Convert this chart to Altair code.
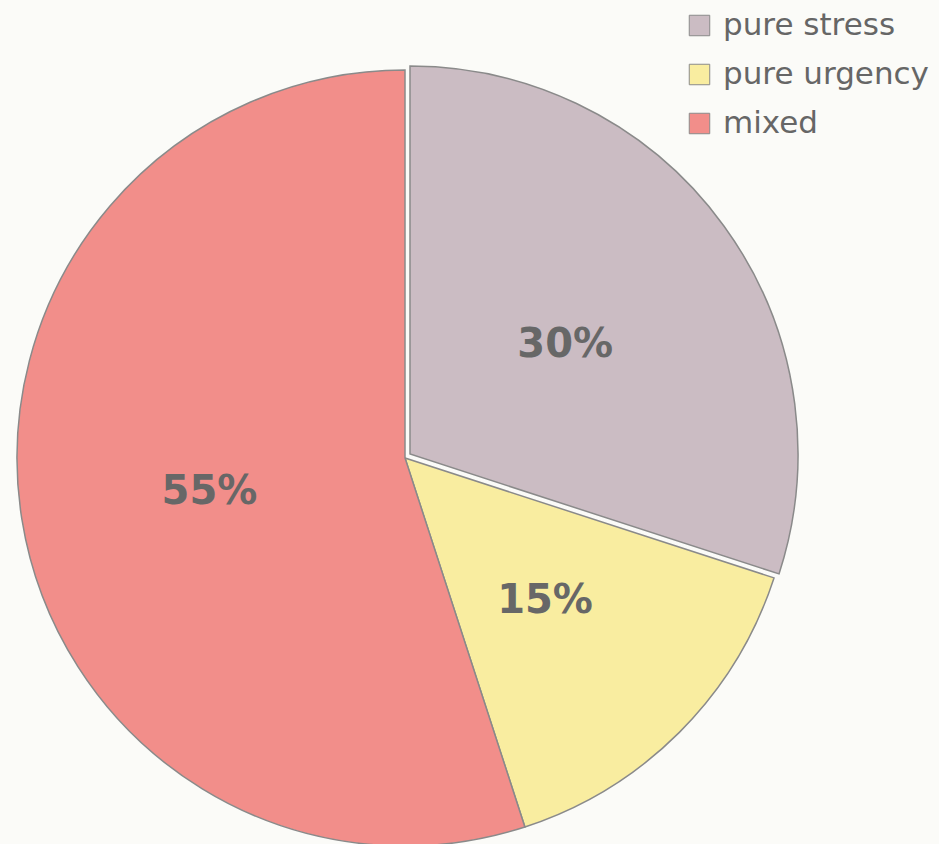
import altair as alt
import pandas as pd

categories = ["pure stress", "pure urgency", "mixed"]
values = [30, 15, 55]
labels = ["30%", "15%", "55%"]
order = [0, 1, 2]
colors = ["#cbbcc3", "#f9eda0", "#f28e8a"]

df = pd.DataFrame({"category": categories, "value": values, "label": labels, "order": order})

CX, CY, R = 405, 458, 388
EX, EY = 410, 454

color = alt.Color(
    "category:N",
    sort=categories,
    scale=alt.Scale(domain=categories, range=colors),
    legend=alt.Legend(
        title=None, orient="none", legendX=684, legendY=10,
        symbolType="square", symbolSize=420, symbolStrokeColor="#8a8a8a",
        symbolStrokeWidth=1, labelFontSize=31, labelFont="DejaVu Sans",
        labelColor="#666666", rowPadding=17, labelOffset=8, labelLimit=400,
    ),
)

base = alt.Chart(df).encode(
    theta=alt.Theta("value:Q", stack=True),
    order=alt.Order("order:Q"),
)

main = base.mark_arc(radius=R, stroke="#8a8a8a", strokeWidth=1.5).encode(
    color=color,
    x=alt.value(CX), y=alt.value(CY),
    opacity=alt.condition(alt.datum.category == "pure stress", alt.value(0), alt.value(1)),
)

exploded = base.mark_arc(radius=R, stroke="#8a8a8a", strokeWidth=1.5).encode(
    color=color,
    x=alt.value(EX), y=alt.value(EY),
    opacity=alt.condition(alt.datum.category == "pure stress", alt.value(1), alt.value(0)),
)

text = base.mark_text(
    radius=198, dy=3, font="DejaVu Sans", fontWeight="bold", fontSize=40, color="#676767",
).encode(
    text="label:N",
    x=alt.value(CX), y=alt.value(CY),
)

chart = alt.layer(main, exploded, text).properties(
    width=939, height=844,
    autosize=alt.AutoSizeParams(type="none"),
    padding=0,
    background="#fbfbf8",
).configure_view(stroke=None)

chart.save("out.html", embed_options={"renderer": "svg", "actions": False})
